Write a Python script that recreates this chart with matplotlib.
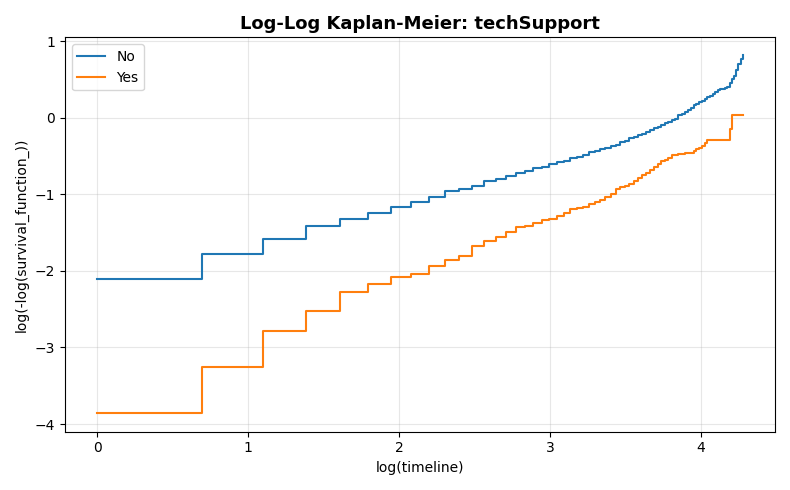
import numpy as np
import matplotlib
matplotlib.use("Agg")
import matplotlib.pyplot as plt

timeline = list(range(1, 73))
no_vals = [-2.10,-1.78,-1.58,-1.42,-1.32,-1.25,-1.17,-1.10,-1.03,-0.96,-0.93,-0.89,-0.82,-0.80,-0.76,-0.72,
           -0.69,-0.66,-0.64,-0.61,-0.58,-0.56,-0.53,-0.51,-0.48,-0.45,-0.43,-0.41,-0.39,-0.37,-0.35,-0.32,
           -0.30,-0.27,-0.25,-0.23,-0.21,-0.18,-0.16,-0.14,-0.12,-0.10,-0.07,-0.05,-0.03,-0.02,0.03,0.05,
           0.08,0.10,0.13,0.16,0.18,0.20,0.22,0.24,0.27,0.29,0.31,0.34,0.36,0.37,0.38,0.39,0.40,0.45,
           0.50,0.55,0.62,0.70,0.77,0.82]
yes_vals = [-3.86,-3.26,-2.79,-2.53,-2.28,-2.17,-2.08,-2.04,-1.94,-1.86,-1.80,-1.67,-1.61,-1.56,-1.49,-1.43,
            -1.41,-1.37,-1.34,-1.32,-1.28,-1.24,-1.19,-1.18,-1.16,-1.13,-1.10,-1.07,-1.04,-1.00,-0.93,-0.91,
            -0.89,-0.86,-0.82,-0.79,-0.75,-0.72,-0.68,-0.64,-0.60,-0.57,-0.55,-0.52,-0.49,-0.48,-0.47,-0.47,
            -0.46,-0.46,-0.46,-0.43,-0.41,-0.39,-0.37,-0.33,-0.29,-0.29,-0.29,-0.29,-0.29,-0.29,-0.29,-0.29,
            -0.29,-0.15,0.03,0.03,0.03,0.03,0.03,0.03]

x = np.log(np.array(timeline))
fig, ax = plt.subplots(figsize=(7.9, 4.9), dpi=100)
ax.plot(x, no_vals, drawstyle='steps-post', color='#1f77b4', label='No')
ax.plot(x, yes_vals, drawstyle='steps-post', color='#ff7f0e', label='Yes')
ax.set_title('Log-Log Kaplan-Meier: techSupport', fontsize=13, fontweight='bold')
ax.set_xlabel('log(timeline)')
ax.set_ylabel('log(-log(survival_function_))')
ax.grid(True, alpha=0.3)
ax.legend(loc='upper left')
ax.set_ylim(-4.1, 1.05)
fig.tight_layout()
fig.savefig('out.png')
